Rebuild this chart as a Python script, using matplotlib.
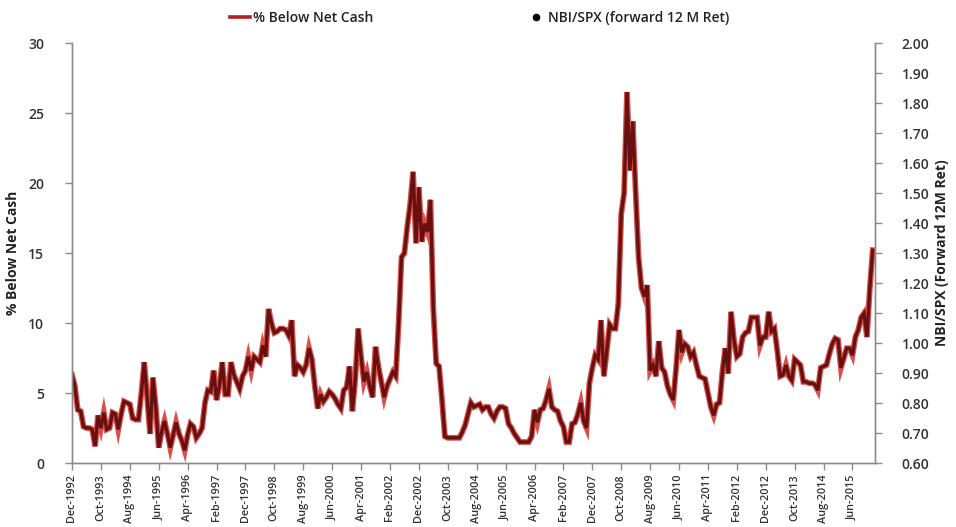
import numpy as np
import pandas as pd
import matplotlib
matplotlib.use("Agg")
import matplotlib.pyplot as plt
from matplotlib.lines import Line2D

# monthly % of stocks trading below net cash, Dec 1992 onwards
below_net_cash = [
    6.3, 5.5, 3.8, 3.7, 2.6, 2.5, 2.5, 2.4, 1.2, 3.4, 2.5, 3.6,
    2.4, 2.5, 3.6, 3.5, 2.4, 3.5, 4.4, 4.3, 4.2, 3.2, 3.1, 3.1,
    5.0, 7.2, 4.7, 2.1, 6.1, 4.0, 1.1, 2.2, 3.0, 2.1, 1.1, 2.0,
    2.9, 2.1, 1.6, 0.9, 2.0, 2.8, 2.6, 1.8, 2.1, 2.5, 4.3, 5.2,
    5.1, 6.6, 4.5, 5.5, 7.2, 4.9, 4.9, 7.2, 6.3, 5.8, 5.3, 6.2,
    6.6, 7.6, 6.6, 7.6, 7.4, 7.2, 8.4, 7.6, 11.0, 10.0, 9.3, 9.4,
    9.6, 9.6, 9.5, 9.1, 10.2, 6.2, 7.0, 6.8, 6.5, 7.0, 8.2, 7.4,
    5.5, 3.9, 4.9, 4.4, 4.7, 5.1, 4.9, 4.6, 4.2, 3.9, 5.2, 5.4,
    6.9, 3.7, 6.0, 9.6, 7.6, 5.8, 6.5, 5.5, 4.7, 8.3, 6.9, 5.8,
    4.7, 5.5, 6.0, 6.5, 6.2, 10.0, 14.7, 15.0, 16.9, 18.5, 20.8, 15.7,
    19.7, 15.8, 17.1, 16.5, 18.8, 11.0, 7.1, 6.9, 4.5, 1.9, 1.8, 1.8,
    1.8, 1.8, 1.8, 2.2, 2.7, 3.5, 4.3, 4.0, 4.1, 4.2, 3.8, 4.0,
    4.0, 3.5, 3.2, 3.7, 4.0, 4.0, 3.9, 2.8, 2.5, 2.1, 1.8, 1.5,
    1.5, 1.5, 1.5, 1.9, 3.8, 2.9, 3.8, 3.9, 4.5, 5.3, 4.0, 3.8,
    3.7, 3.0, 2.6, 1.5, 1.5, 2.8, 2.9, 3.5, 4.3, 3.0, 2.5, 5.7,
    6.8, 7.7, 7.4, 10.2, 6.2, 8.0, 9.9, 9.6, 9.6, 11.4, 17.8, 19.3,
    26.5, 20.9, 24.4, 19.3, 14.7, 12.5, 11.9, 12.7, 6.6, 7.0, 6.2, 8.7,
    6.8, 6.5, 5.5, 4.9, 4.5, 6.8, 9.5, 7.9, 8.5, 8.3, 7.6, 7.9,
    7.0, 6.2, 6.1, 6.0, 5.0, 4.0, 3.4, 4.2, 4.3, 6.5, 8.2, 6.4,
    10.8, 8.8, 7.6, 7.8, 9.0, 9.3, 9.4, 10.4, 10.4, 10.4, 8.4, 9.0,
    9.0, 10.8, 9.4, 9.6, 8.0, 6.2, 6.3, 7.0, 6.2, 5.9, 7.4, 7.2,
    7.0, 5.8, 5.8, 5.7, 5.7, 5.6, 5.2, 6.8, 6.9, 7.0, 7.8, 8.5,
    8.9, 8.8, 6.8, 7.5, 8.2, 8.2, 7.7, 9.0, 9.5, 10.4, 10.7, 9.0,
    12.5, 15.2,
]
dates = pd.date_range("1992-12-01", periods=len(below_net_cash), freq="MS")
x = np.arange(len(below_net_cash))

left_ticks = np.arange(0, 31, 5)
right_ticks = np.round(np.arange(0.6, 2.001, 0.1), 2)

plt.rcParams["font.family"] = ["Open Sans", "DejaVu Sans"]

fig = plt.figure(figsize=(9.56, 5.27), dpi=100)
ax = fig.add_axes([0.0753, 0.1214, 0.84, 0.797])
ax2 = ax.twinx()

# red halo under a dark red core
ax.plot(x, below_net_cash, color="#d0241e", lw=4.2, alpha=0.8, solid_joinstyle="miter")
ax.plot(x, below_net_cash, color="#661010", lw=2.4, solid_joinstyle="miter")

ax.set_xlim(0, len(below_net_cash) - 0.2)
ax.set_ylim(0, 30)
ax.set_yticks(left_ticks)
ax.set_yticklabels([str(v) for v in left_ticks])
ax2.set_ylim(0.6, 2.0)
ax2.set_yticks(right_ticks)
ax2.set_yticklabels([f"{v:.2f}" for v in right_ticks])

ax.set_xticks(x[::10])
ax.set_xticklabels([d.strftime("%b-%Y") for d in dates[::10]], rotation=90,
                   fontsize=7.8, fontweight="semibold", color="#333333")

for a in (ax, ax2):
    a.spines["top"].set_visible(False)
    for s in ("left", "right", "bottom"):
        a.spines[s].set_color("#8c8c8c")
        a.spines[s].set_linewidth(1.0)
    a.tick_params(colors="#8c8c8c", length=5, width=1.0)
ax.tick_params(axis="y", labelsize=10, labelcolor="#333333", pad=15)
ax.tick_params(axis="x", labelcolor="#333333", pad=3)
ax2.tick_params(axis="y", labelsize=10, labelcolor="#333333", pad=14)
for t in ax.get_yticklabels() + ax2.get_yticklabels():
    t.set_fontweight("semibold")

ax.set_ylabel("% Below Net Cash", fontsize=10, fontweight="bold", color="#222222", labelpad=6)
ax2.set_ylabel("NBI/SPX (Forward 12M Ret)", fontsize=10, fontweight="bold", color="#222222",
               rotation=90, labelpad=4)

handles = [
    Line2D([], [], color="#b51f1f", lw=2.6),
    Line2D([], [], color="black", marker="o", linestyle="none", markersize=4.5),
]
fig.legend(handles, ["% Below Net Cash", "NBI/SPX (forward 12 M Ret)"], ncol=2,
           loc="center", bbox_to_anchor=(0.502, 0.966), frameon=False,
           prop={"size": 10, "weight": "semibold"}, handlelength=1.4, handletextpad=0.2,
           columnspacing=11, labelcolor="#222222")

fig.savefig("out.png", dpi=100)
